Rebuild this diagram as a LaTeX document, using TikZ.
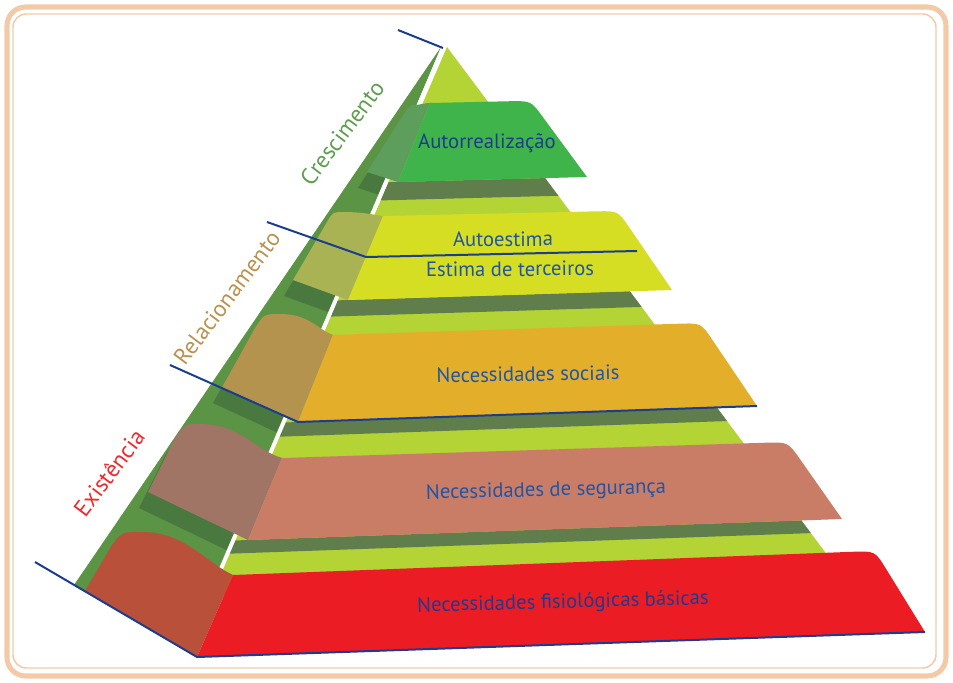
\documentclass[tikz,border=0pt]{standalone}
\usepackage{fontspec}
\setmainfont{PT Sans}
\usetikzlibrary{calc}
\definecolor{framec}{HTML}{F2CAA8}
\definecolor{lmid}{HTML}{5A9444}
\definecolor{ldark}{HTML}{4A7940}
\definecolor{flight}{HTML}{B4D334}
\definecolor{fdark}{HTML}{5F7E4C}
\definecolor{frontA}{HTML}{3FB44A}
\definecolor{sideA}{HTML}{5E9E5C}
\definecolor{frontB}{HTML}{D6DE23}
\definecolor{sideB}{HTML}{AAB354}
\definecolor{frontC}{HTML}{E3AF2B}
\definecolor{sideC}{HTML}{B3934E}
\definecolor{frontD}{HTML}{CA7D66}
\definecolor{sideD}{HTML}{A07565}
\definecolor{frontE}{HTML}{EC1C24}
\definecolor{sideE}{HTML}{B8503A}
\definecolor{lineblue}{HTML}{1A3D8F}
\definecolor{txtblue}{HTML}{1F55A8}
\definecolor{txtnavy}{HTML}{1D3C8E}
\definecolor{crescc}{HTML}{5E9E4F}
\definecolor{relc}{HTML}{B8934F}
\definecolor{exic}{HTML}{EE2A2E}
\newcommand{\pnlA}[1]{\fill[#1] (398,182) -- (367,172) -- (405,112) .. controls (410,105) .. (417,105) .. controls (422,104) and (426,103) .. (430,103) -- cycle;}
\newcommand{\pnlB}[1]{\fill[#1] (348,300) -- (293,280) -- (327,222) .. controls (333,212) .. (343,212) .. controls (360,212) and (370,214) .. (383,216) -- cycle;}
\newcommand{\pnlC}[1]{\fill[#1] (298,422) -- (222,387) -- (255,328) .. controls (264,314) .. (280,314) .. controls (310,314) and (318,330) .. (333,335) -- cycle;}
\newcommand{\pnlD}[1]{\fill[#1] (248,540) -- (148,492) -- (175,438) .. controls (185,424) .. (200,424) .. controls (240,424) and (255,450) .. (282,458) -- cycle;}
\newcommand{\pnlE}[1]{\fill[#1] (197,657) -- (85,591) -- (112,545) .. controls (122,532) .. (142,532) .. controls (185,532) and (205,562) .. (233,575) -- cycle;}
\begin{document}
\begin{tikzpicture}[x=0.75pt,y=-0.75pt,
  boxtext/.style={font=\fontsize{15.5}{18}\selectfont, text=txtblue, inner sep=0pt},
  sidetext/.style={font=\fontsize{17.5}{20}\selectfont, inner sep=0pt, rotate=53},
  levelline/.style={draw=lineblue, line width=1.5pt, line join=round}]
\useasboundingbox (0,0) rectangle (953,682);
% frame
\draw[framec, line width=3.8pt, rounded corners=14pt] (7,7) rectangle (946,676);
\draw[framec, line width=1.1pt, rounded corners=10pt] (13,14) rectangle (936,668);
% left face
\fill[lmid] (441,47) -- (74,585) -- (197,657) -- (209,597) -- cycle;
\begin{scope}
  \clip (441,47) -- (74,585) -- (197,657) -- (209,597) -- cycle;
  \begin{scope}[shift={(-9,16)}]
    \pnlA{ldark} \pnlB{ldark} \pnlC{ldark} \pnlD{ldark} \pnlE{ldark}
  \end{scope}
\end{scope}
% front face
\fill[flight] (447,47) -- (840,572) -- (209,597) -- cycle;
\begin{scope}
  \clip (447,47) -- (840,572) -- (209,597) -- cycle;
  \fill[fdark] (370,182.7) -- (587,177) -- (587,195) -- (370,200.7) -- cycle;
  \fill[fdark] (320,300.9) -- (672,290) -- (672,306) -- (320,316.9) -- cycle;
  \fill[fdark] (270,423) -- (757,406) -- (757,420) -- (270,437) -- cycle;
  \fill[fdark] (220,541) -- (842,519) -- (842,532) -- (220,554) -- cycle;
\end{scope}
\draw[white, line width=3pt] (444,46) -- (209,597);
% layer boxes
\pnlA{sideA}
\fill[frontA] (398,182) -- (430,103) -- (511,101.2) .. controls (531,101) .. (542.3,116.3) -- (587,177) -- cycle;
\pnlB{sideB}
\fill[frontB] (348,300) -- (383,216) -- (598,211.3) .. controls (618,211) .. (629.3,227.5) -- (672,290) -- cycle;
\pnlC{sideC}
\fill[frontC] (298,422) -- (333,335) -- (679,323.7) .. controls (701,323) .. (712.2,339.6) -- (757,406) -- cycle;
\pnlD{sideD}
\fill[frontD] (248,540) -- (282,458) -- (766,442.7) .. controls (788,442) .. (800.6,460) -- (842,519) -- cycle;
\pnlE{sideE}
\fill[frontE] (197,657) -- (233,575) -- (852,551.8) .. controls (875,551) .. (885.5,568) -- (925,632) -- cycle;
% level lines
\coordinate (t1) at (398,30);
\coordinate (apex) at (443,48);
\coordinate (r1) at (267,222);
\coordinate (r2) at (366,257);
\coordinate (r3) at (637,251);
\coordinate (s1) at (170,365);
\coordinate (s2) at (298,422);
\coordinate (s3) at (757,406);
\coordinate (e1) at (35,562);
\coordinate (e2) at (197,657);
\coordinate (e3) at (925,632);
\draw[levelline] (t1) -- (apex);
\draw[levelline] (r1) -- (r2) -- (r3);
\draw[levelline] (s1) -- (s2) -- (s3);
\draw[levelline] (e1) -- (e2) -- (e3);
% texts
\node[boxtext, text=txtnavy] (auto) at (487,143) {Autorrealização};
\node[boxtext, rotate=0.5] (autoe) at (503,239) {Autoestima};
\node[boxtext, rotate=0.5] (estter) at (510,269) {Estima de terceiros};
\node[boxtext, rotate=1] (soc) at (528,374) {Necessidades sociais};
\node[boxtext, rotate=1.5] (seg) at (546,491) {Necessidades de segurança};
\node[boxtext, text=txtnavy, rotate=1.5] (fis) at (563,603) {Necessidades fisiológicas básicas};
\node[sidetext, text=crescc] (cresc) at (342,133) {Crescimento};
\node[sidetext, text=relc] (rel) at (227,298) {Relacionamento};
\node[sidetext, text=exic] (exi) at (109,473) {Existência};
\end{tikzpicture}
\end{document}
